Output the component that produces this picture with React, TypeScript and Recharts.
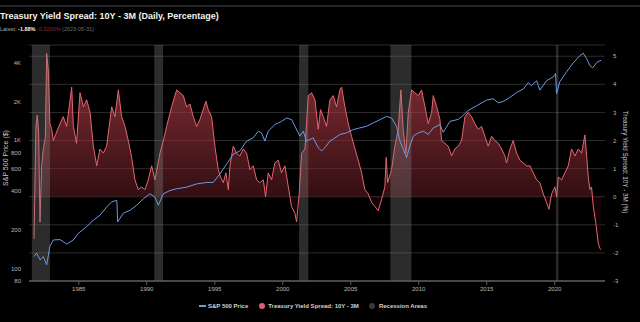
import {
  ComposedChart, Area, Line, XAxis, YAxis, CartesianGrid, ReferenceArea,
} from "recharts";

/* ─── Data ───────────────────────────────────────────────────────────────── */
const spreadYears = [
  1981.71, 1981.85, 1981.95, 1982.05, 1982.15, 1982.27, 1982.39, 1982.54, 1982.64, 1982.76,
  1982.88, 1983.01, 1983.13, 1983.37, 1983.62, 1983.86, 1984.11, 1984.48, 1984.6, 1984.84,
  1985.09, 1985.34, 1985.58, 1985.83, 1986.07, 1986.32, 1986.56, 1986.81, 1987.05, 1987.42,
  1987.66, 1987.91, 1988.15, 1988.4, 1988.64, 1988.89, 1989.13, 1989.38, 1989.62, 1989.87,
  1990.11, 1990.36, 1990.6, 1990.97, 1991.22, 1991.46, 1991.83, 1992.2, 1992.44, 1992.69,
  1992.93, 1993.18, 1993.42, 1993.67, 1993.91, 1994.35, 1994.52, 1994.77, 1995.01, 1995.26,
  1995.43, 1995.63, 1995.82, 1996.0, 1996.12, 1996.36, 1996.61, 1996.85, 1997.1, 1997.34,
  1997.59, 1997.83, 1998.08, 1998.32, 1998.57, 1998.74, 1998.93, 1999.18, 1999.42, 1999.67,
  1999.91, 2000.16, 2000.41, 2000.65, 2000.9, 2001.02, 2001.21, 2001.39, 2001.63, 2001.88,
  2002.12, 2002.37, 2002.61, 2002.78, 2002.98, 2003.22, 2003.47, 2003.71, 2003.96, 2004.2,
  2004.33, 2004.57, 2004.82, 2005.06, 2005.31, 2005.55, 2005.8, 2006.04, 2006.29, 2006.53,
  2006.78, 2007.02, 2007.27, 2007.51, 2007.61, 2007.71, 2008.0, 2008.25, 2008.49, 2008.69,
  2008.87, 2009.06, 2009.23, 2009.48, 2009.72, 2009.97, 2010.21, 2010.46, 2010.7, 2010.95,
  2011.07, 2011.32, 2011.56, 2011.68, 2011.93, 2012.17, 2012.42, 2012.66, 2012.91, 2013.15,
  2013.4, 2013.64, 2013.89, 2014.13, 2014.38, 2014.62, 2014.87, 2015.11, 2015.36, 2015.61,
  2015.85, 2016.1, 2016.34, 2016.46, 2016.71, 2016.95, 2017.2, 2017.44, 2017.69, 2017.93,
  2018.18, 2018.42, 2018.67, 2018.91, 2019.16, 2019.4, 2019.58, 2019.77, 2020.02, 2020.14,
  2020.26, 2020.51, 2020.75, 2021.0, 2021.24, 2021.49, 2021.73, 2021.98, 2022.22, 2022.35,
  2022.47, 2022.59, 2022.71, 2022.84, 2023.03, 2023.2, 2023.33, 2023.41,
];
const spreadValues = [
  -1.5, 2.5, 2.9, 2.3, -0.9, 1.1, 1.7, 2.1, 5.1, 4.5,
  2.6, 2.4, 2.0, 2.3, 2.6, 2.85, 2.5, 3.9, 2.5, 1.9,
  3.7, 3.2, 3.45, 3.0, 1.8, 1.1, 1.7, 1.55, 1.8, 3.2,
  2.85, 3.8, 2.85, 2.5, 2.0, 1.4, 0.6, 0.25, 0.35, 0.25,
  0.6, 1.1, 0.6, 1.55, 2.0, 2.5, 3.2, 3.8, 3.7, 3.6,
  3.2, 3.3, 2.85, 2.5, 2.75, 3.4, 3.1, 2.85, 1.8, 0.96,
  0.7, 0.5, 0.85, 0.25, 1.1, 1.8, 1.55, 1.45, 1.7, 1.55,
  0.96, 1.1, 0.6, 0.5, 0.6, 0.0, 0.85, 0.6, 1.2, 1.3,
  0.85, 1.1, 0.35, -0.35, -0.6, -0.9, 0.1, 1.55, 1.7, 3.6,
  3.7, 3.45, 2.4, 3.1, 2.85, 2.5, 3.45, 3.6, 3.2, 3.8,
  3.9, 3.2, 2.6, 2.15, 1.7, 1.3, 0.85, 0.25, 0.1, -0.2,
  -0.35, -0.5, -0.1, 0.35, 1.4, 0.5, 0.96, 1.8, 2.4, 3.8,
  2.3, 1.55, 3.0, 3.8, 3.7, 3.6, 3.8, 3.2, 2.6, 3.0,
  3.6, 3.2, 2.75, 2.0, 1.9, 1.8, 1.45, 1.7, 1.8, 2.0,
  2.85, 3.0, 2.85, 2.6, 2.4, 2.5, 2.15, 1.8, 2.15, 2.0,
  1.9, 1.7, 1.45, 1.2, 1.7, 2.0, 1.55, 1.3, 1.2, 1.1,
  1.1, 0.85, 0.6, 0.5, 0.1, -0.2, -0.45, 0.1, 0.35, 0.0,
  0.7, 0.6, 0.85, 1.1, 1.7, 1.45, 1.7, 1.55, 2.2, 1.45,
  0.7, 0.25, 0.35, -0.35, -0.95, -1.65, -1.85, -1.88,
];

const priceYears = [
  1981.71, 1981.9, 1982.15, 1982.39, 1982.64, 1982.88, 1983.13, 1983.62, 1984.11, 1984.6,
  1984.97, 1985.58, 1986.07, 1986.56, 1987.05, 1987.42, 1987.8, 1987.86, 1988.28, 1988.77,
  1989.26, 1989.75, 1990.24, 1990.6, 1990.85, 1991.22, 1991.71, 1992.2, 1992.93, 1993.67,
  1994.4, 1994.89, 1995.38, 1995.87, 1996.36, 1996.85, 1997.34, 1997.83, 1998.2, 1998.44,
  1998.69, 1998.93, 1999.42, 1999.91, 2000.28, 2000.65, 2000.9, 2001.26, 2001.51, 2001.75,
  2002.24, 2002.61, 2002.86, 2003.1, 2003.47, 2003.84, 2004.2, 2004.7, 2005.18, 2005.67,
  2006.16, 2006.65, 2007.15, 2007.64, 2008.0, 2008.37, 2008.62, 2008.87, 2009.11, 2009.35,
  2009.6, 2009.97, 2010.34, 2010.7, 2011.07, 2011.56, 2011.8, 2012.3, 2012.91, 2013.28,
  2013.64, 2014.26, 2014.99, 2015.48, 2015.85, 2016.22, 2016.71, 2017.2, 2017.69, 2018.06,
  2018.3, 2018.67, 2018.91, 2019.4, 2019.89, 2020.06, 2020.14, 2020.38, 2020.87, 2021.37,
  2021.86, 2022.1, 2022.35, 2022.59, 2022.79, 2023.08, 2023.33, 2023.41,
];
const priceValues = [
  124, 132, 117, 124, 107, 149, 167, 168, 155, 167,
  188, 212, 238, 260, 301, 330, 340, 231, 270, 284,
  311, 350, 382, 360, 311, 382, 405, 418, 430, 456,
  468, 468, 545, 650, 776, 823, 982, 1042, 1173, 1139,
  982, 1173, 1320, 1400, 1485, 1445, 1281, 1073, 1173, 982,
  1042, 873, 823, 873, 982, 1042, 1106, 1139, 1207, 1244,
  1281, 1359, 1443, 1530, 1485, 1280, 982, 850, 731, 900,
  1073, 1139, 1173, 1106, 1244, 1320, 1150, 1400, 1450, 1560,
  1700, 1850, 2050, 2100, 1950, 2000, 2150, 2350, 2500, 2800,
  2650, 2900, 2450, 2900, 3100, 3300, 2300, 2850, 3400, 4000,
  4550, 4750, 4300, 3800, 3650, 4000, 4150, 4180,
];

const recessionStarts = [1981.55, 1990.55, 2001.2, 2007.92, 2020.1];
const recessionEnds = [1982.88, 1991.2, 2001.88, 2009.46, 2020.27];

const yearTicks = [1985, 1990, 1995, 2000, 2005, 2010, 2015, 2020];
const priceTicks = [80, 100, 200, 400, 600, 800, 1000, 2000, 4000];
const spreadTicks = [-3, -2, -1, 0, 1, 2, 3, 4, 5];

/* ─── One table for both series ──────────────────────────────────────────── */
type Row = { t: number; spread?: number; price?: number };
const rowMap = new Map<number, Row>();
spreadYears.forEach((t, i) => {
  rowMap.set(t, { ...(rowMap.get(t) ?? { t }), spread: spreadValues[i] });
});
priceYears.forEach((t, i) => {
  rowMap.set(t, { ...(rowMap.get(t) ?? { t }), price: priceValues[i] });
});
const chartData = [...rowMap.values()].sort((a, b) => a.t - b.t);

/* ─── Shared styles ──────────────────────────────────────────────────────── */
const FONT = "'Liberation Sans', Arial, sans-serif";
const tickStyle = { fontFamily: FONT, fontSize: 6, fill: "#b8b8b8" };
const legendText = { fontFamily: FONT, fontSize: 6, fontWeight: 700, color: "#d2d2d2" };

export default function App() {
  return (
    <div style={{
      position: "absolute", left: 0, top: 0, width: 640, height: 322,
      background: "#000", overflow: "hidden", fontFamily: FONT,
    }}>
      {/* top rule */}
      <div style={{ position: "absolute", left: 0, top: 5, width: 640, height: 2, background: "#25252b" }} />

      {/* Title + latest value */}
      <div style={{
        position: "absolute", left: 0, top: 12, fontSize: 9, lineHeight: "9px",
        fontWeight: 700, color: "#f2f2f2", whiteSpace: "nowrap",
      }}>
        Treasury Yield Spread: 10Y - 3M (Daily, Percentage)
      </div>
      <div style={{
        position: "absolute", left: 0, top: 26, fontSize: 5.5, lineHeight: "6px",
        color: "#a8a8a8", whiteSpace: "nowrap",
      }}>
        Latest: <span style={{ color: "#f0f0f0", fontWeight: 700 }}>-1.88%</span>{" "}
        <span style={{ color: "#8c2a3a" }}>-0.0200%</span>{" "}
        <span style={{ color: "#6e6e6e" }}>(2023-05-31)</span>
      </div>

      <ComposedChart
        width={640}
        height={322}
        data={chartData}
        margin={{ top: 45, right: 0, bottom: 21, left: 0 }}
      >
        <defs>
          <linearGradient id="spreadFill" gradientUnits="userSpaceOnUse" x1="0" y1="45" x2="0" y2="281">
            <stop offset="0%" stopColor="#e0545f" stopOpacity={1} />
            <stop offset="30%" stopColor="#b03c47" stopOpacity={0.95} />
            <stop offset="64%" stopColor="#5e1a21" stopOpacity={0.92} />
            <stop offset="65%" stopColor="#2a080c" stopOpacity={0.8} />
            <stop offset="100%" stopColor="#1c0508" stopOpacity={0.8} />
          </linearGradient>
        </defs>

        <CartesianGrid yAxisId="spread" vertical={false} stroke="#2c2c2c" strokeWidth={1} />

        <XAxis
          dataKey="t"
          type="number"
          domain={[1981.34, 2023.7]}
          ticks={yearTicks}
          allowDataOverflow
          height={20}
          tick={tickStyle}
          tickSize={4}
          tickMargin={2}
          axisLine={{ stroke: "#5a5a5a", strokeWidth: 1.5 }}
          tickLine={{ stroke: "#5a5a5a" }}
        />
        <YAxis
          yAxisId="price"
          scale="log"
          domain={[80, 5500]}
          ticks={priceTicks}
          allowDataOverflow
          width={29}
          tick={tickStyle}
          tickLine={false}
          axisLine={false}
          tickFormatter={(v: number) => (v >= 1000 ? `${v / 1000}K` : `${v}`)}
        />
        <YAxis
          yAxisId="spread"
          orientation="right"
          domain={[-3, 5.4]}
          ticks={spreadTicks}
          allowDataOverflow
          width={35}
          tick={{ ...tickStyle, textAnchor: "start" }}
          tickLine={false}
          axisLine={false}
        />

        <Area
          yAxisId="spread"
          dataKey="spread"
          type="linear"
          baseValue={0}
          connectNulls
          stroke="#e8646f"
          strokeWidth={1}
          fill="url(#spreadFill)"
          isAnimationActive={false}
        />
        <Line
          yAxisId="price"
          dataKey="price"
          type="linear"
          connectNulls
          dot={false}
          stroke="#6b9be2"
          strokeWidth={1}
          isAnimationActive={false}
        />

        {recessionStarts.map((x1, i) => (
          <ReferenceArea
            key={x1}
            yAxisId="spread"
            x1={x1}
            x2={recessionEnds[i]}
            fill="#8a8a8a"
            fillOpacity={0.32}
            stroke="none"
          />
        ))}
      </ComposedChart>

      {/* Axis titles */}
      <div style={{
        position: "absolute", left: 5, top: 158, transform: "translate(-50%, -50%) rotate(-90deg)",
        fontSize: 7, color: "#c8c8c8", whiteSpace: "nowrap",
      }}>
        S&amp;P 500 Price ($)
      </div>
      <div style={{
        position: "absolute", left: 625, top: 162, transform: "translate(-50%, -50%) rotate(90deg)",
        fontSize: 6.3, color: "#c8c8c8", whiteSpace: "nowrap",
      }}>
        Treasury Yield Spread: 10Y - 3M (%)
      </div>

      {/* Legend */}
      <div style={{ position: "absolute", left: 199, top: 302, display: "flex", alignItems: "center", height: 8 }}>
        <div style={{ width: 7, height: 1.5, background: "#6b9be2", marginRight: 2 }} />
        <span style={legendText}>S&amp;P 500 Price</span>
        <div style={{ width: 6, height: 6, borderRadius: 3, background: "#d9606c", margin: "0 3px 0 11px" }} />
        <span style={legendText}>Treasury Yield Spread: 10Y - 3M</span>
        <div style={{ width: 6, height: 6, borderRadius: 3, background: "#3a3a3a", margin: "0 4px 0 10px" }} />
        <span style={legendText}>Recession Areas</span>
      </div>
    </div>
  );
}
